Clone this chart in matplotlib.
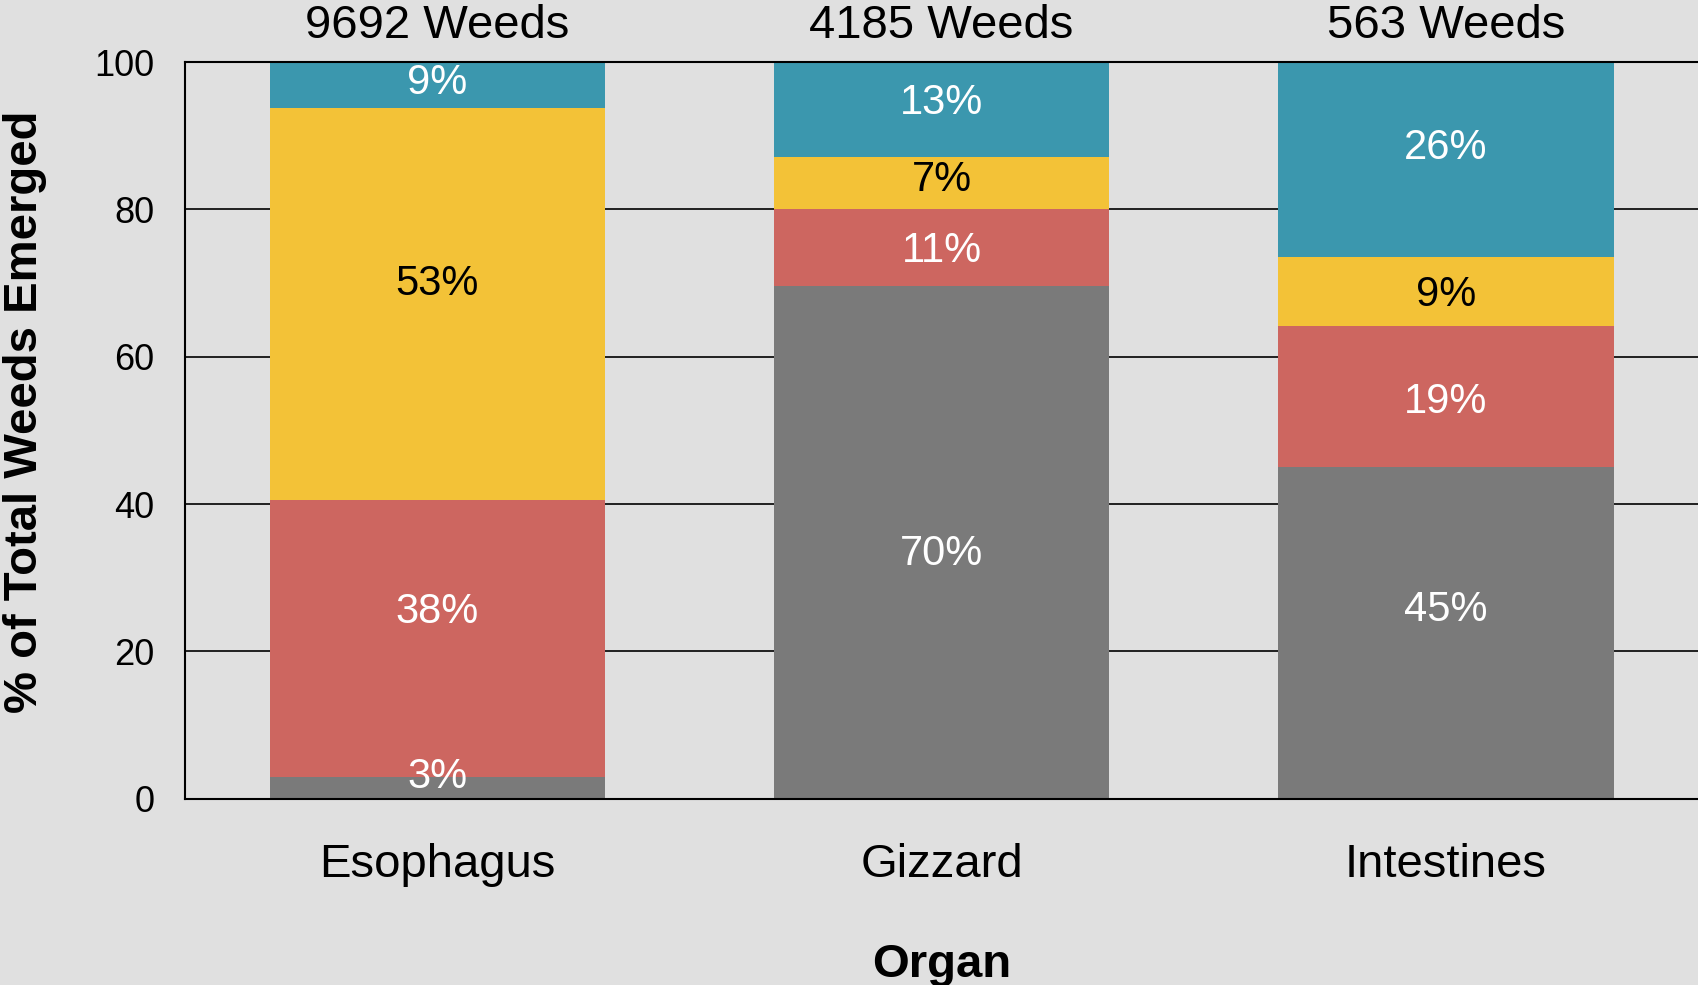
import matplotlib.pyplot as plt
import numpy as np

organs = ["Esophagus", "Gizzard", "Intestines"]
weed_counts = [9692, 4185, 563]

# stacked segments, bottom to top (heights)
gray_vals = [2.9, 69.6, 45.1]
red_vals = [37.6, 10.4, 19.1]
yellow_vals = [53.2, 7.1, 9.4]
teal_vals = [9.0, 12.9, 26.4]

gray_lbl = ["3%", "70%", "45%"]
red_lbl = ["38%", "11%", "19%"]
yellow_lbl = ["53%", "7%", "9%"]
teal_lbl = ["9%", "13%", "26%"]

plt.rcParams['font.family'] = ['Liberation Sans', 'DejaVu Sans']
bg = '#e0e0e0'

fig = plt.figure(figsize=(16.98, 9.85), dpi=100, facecolor=bg)
ax = fig.add_axes([0.109, 0.189, 0.891, 0.748])
ax.set_facecolor(bg)

x = np.arange(len(organs))
width = 0.665
series = [
    (gray_vals, gray_lbl, '#7a7a7a', 'white', [1.45, -1.6, 3.1]),
    (red_vals, red_lbl, '#cd6660', 'white', [3.6, -0.5, -0.8]),
    (yellow_vals, yellow_lbl, '#f3c237', 'black', [2.8, 0.4, -0.5]),
    (teal_vals, teal_lbl, '#3b97ae', 'white', [0.25, 0.9, 1.5]),
]

bottom = np.zeros(len(organs))
for vals, lbls, color, tcolor, offs in series:
    vals = np.array(vals)
    ax.bar(x, vals, width, bottom=bottom, color=color, zorder=3)
    for i in range(len(organs)):
        top = min(bottom[i] + vals[i], 100)
        yc = (bottom[i] + top) / 2 + offs[i]
        ax.text(x[i], yc, lbls[i], ha='center', va='center',
                color=tcolor, fontsize=30, zorder=4)
    bottom += vals

for i, n in enumerate(weed_counts):
    ax.annotate(f"{n} Weeds", xy=(x[i], 1.0), xycoords=('data', 'axes fraction'),
                xytext=(0, 26), textcoords='offset points',
                ha='center', va='center', fontsize=34)

ax.set_xlim(-0.5, 2.5)
ax.set_ylim(0, 100)
ax.set_yticks([0, 20, 40, 60, 80, 100])
ax.yaxis.grid(True, color='black', linewidth=1.2, zorder=0)
ax.set_axisbelow(True)
ax.set_xticks(x)
ax.set_xticklabels(organs, fontsize=34)
ax.tick_params(axis='both', length=0)
ax.tick_params(axis='y', labelsize=26, pad=22)
ax.tick_params(axis='x', pad=32)

ax.spines['right'].set_visible(False)
for s in ['left', 'bottom', 'top']:
    ax.spines[s].set_linewidth(1.5)
    ax.spines[s].set_zorder(5)

ax.set_xlabel("Organ", fontsize=34, fontweight='bold', labelpad=40)
ax.set_ylabel("% of Total Weeds Emerged", fontsize=34, fontweight='bold', va='center')
ax.yaxis.set_label_coords(-0.106, 0.526)

fig.savefig("out.png", dpi=100, facecolor=bg)
